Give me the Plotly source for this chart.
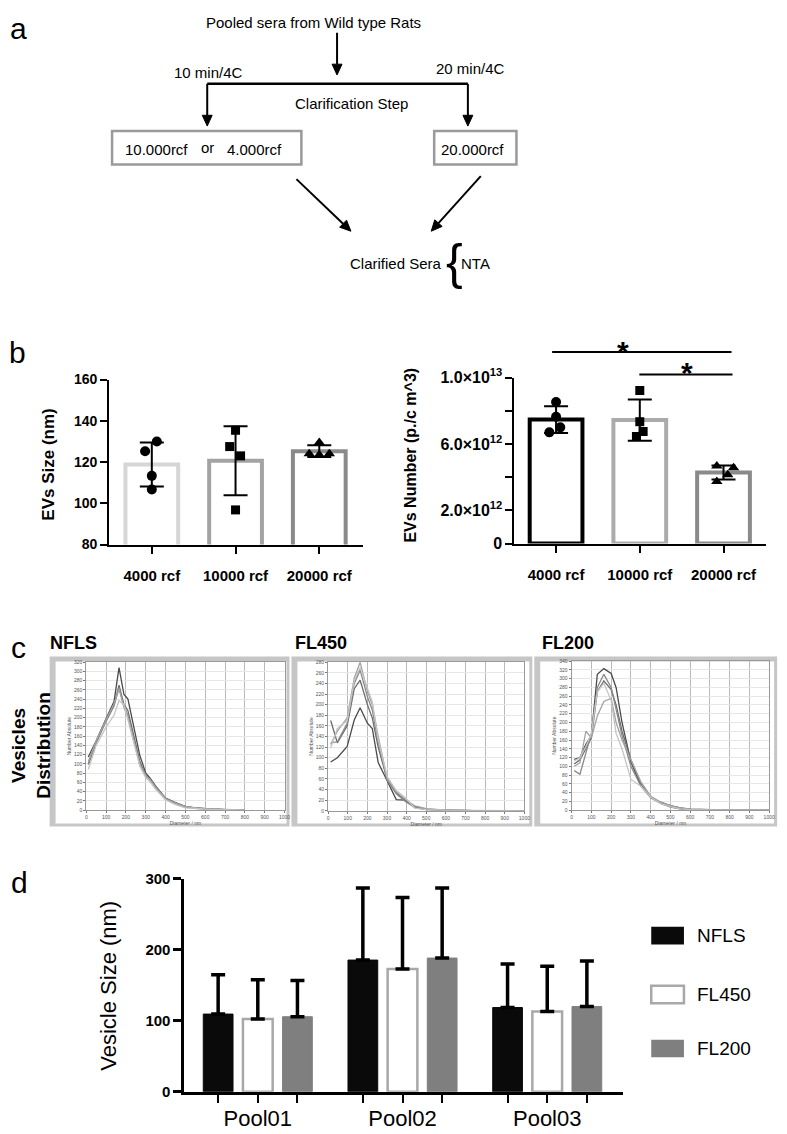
import plotly.graph_objects as go
import numpy as np

W, H = 787, 1134
# the page body adds an 8px margin around the figure; positions below are window pixels
OX, OY = 8, 8
def fx(p): return (p - OX) / W
def fy(p): return 1 - (p - OY) / H

FONT = "Liberation Sans, Arial, sans-serif"

# ---------------- data ----------------
# panel b
b_cats = ["4000 rcf", "10000 rcf", "20000 rcf"]
evsize_4000 = [130.0, 125.2, 113.3, 106.7]
evsize_10000 = [135.4, 127.5, 123.0, 96.8]
evsize_20000 = [129.5, 124.0, 123.5, 124.0]
evnum_4000 = [8.53e12, 7.64e12, 7.00e12, 6.70e12]
evnum_10000 = [9.22e12, 7.34e12, 6.75e12, 6.45e12]
evnum_20000 = [4.67e12, 4.57e12, 4.14e12, 3.74e12]
size_ticks = [80, 100, 120, 140, 160]
num_ticks = [0, 2e12, 6e12, 1e13]
num_ticktext = ["0", "2.0×10<sup>12</sup>", "6.0×10<sup>12</sup>", "1.0×10<sup>13</sup>"]
num_minor_ticks = [4e12, 8e12]

# panel c (NTA size distributions, diameter nm / number absolute)
nfls_diam = [10, 50, 100, 140, 165, 190, 210, 240, 270, 300, 320, 350, 400, 450, 500, 550, 600, 700, 800]
nfls_runs = [
    [115, 150, 198, 235, 308, 250, 240, 175, 118, 80, 70, 52, 26, 16, 8, 5, 3, 1, 0],
    [100, 148, 195, 228, 270, 228, 215, 160, 105, 75, 68, 50, 24, 15, 7, 5, 3, 1, 0],
    [98, 145, 192, 225, 265, 225, 205, 155, 100, 73, 66, 48, 23, 14, 7, 4, 2, 1, 0],
    [105, 150, 196, 230, 262, 222, 200, 150, 98, 75, 67, 49, 25, 15, 8, 4, 3, 1, 0],
    [88, 140, 180, 205, 237, 228, 195, 145, 95, 70, 62, 45, 22, 12, 5, 4, 2, 1, 0],
]
fl450_diam = [13, 47, 97, 133, 163, 200, 225, 255, 300, 347, 392, 442, 500, 600, 800, 1000]
fl450_runs = [
    [92, 100, 121, 171, 194, 165, 155, 91, 57, 21, 20, 7, 2, 1, 0, 0],
    [170, 128, 160, 230, 246, 200, 175, 120, 60, 35, 20, 8, 3, 1, 0, 0],
    [128, 130, 165, 240, 265, 215, 190, 130, 58, 32, 18, 6, 2, 1, 0, 0],
    [125, 150, 175, 250, 280, 225, 200, 140, 62, 36, 22, 9, 4, 1, 0, 0],
    [118, 155, 170, 245, 270, 230, 205, 135, 65, 38, 25, 5, 2, 1, 0, 0],
]
fl200_diam = [13, 42, 72, 100, 130, 163, 200, 225, 255, 300, 350, 400, 450, 500, 550, 600, 700, 800, 1000]
fl200_runs = [
    [116, 120, 150, 170, 310, 323, 312, 280, 200, 110, 55, 30, 18, 10, 5, 2, 1, 0, 0],
    [105, 115, 140, 165, 270, 295, 275, 240, 180, 115, 60, 30, 17, 8, 3, 1, 1, 0, 0],
    [90, 82, 130, 175, 280, 310, 280, 230, 170, 100, 55, 28, 15, 7, 3, 1, 0, 0, 0],
    [100, 108, 180, 165, 215, 248, 255, 200, 160, 115, 65, 32, 18, 10, 5, 2, 1, 0, 0],
    [112, 120, 145, 175, 270, 290, 250, 175, 140, 70, 55, 30, 15, 8, 3, 1, 0, 0, 0],
]
nta_titles = ["NFLS", "FL450", "FL200"]
nta_ymax = [320, 280, 340]

# panel d
pools = ["Pool01", "Pool02", "Pool03"]
d_series = ["NFLS", "FL450", "FL200"]
nfls_mean = [109.3, 185.3, 118.5]
nfls_err = [55.3, 101.5, 61.3]
fl450_mean = [102.4, 172.9, 113.0]
fl450_err = [55.3, 100.5, 63.6]
fl200_mean = [105.6, 188.1, 119.9]
fl200_err = [51.1, 98.7, 64.1]

# ---------------- styles ----------------
JIT_SIZE = [[0.06, -0.08, 0.0, 0.0], [0.0, -0.07, 0.06, 0.0], [0.0, -0.12, 0.0, 0.12]]
JIT_NUM = [[0.0, 0.0, 0.05, -0.08], [0.0, 0.0, 0.04, -0.04], [-0.08, 0.12, 0.05, -0.08]]
SYMBOLS = ["circle", "square", "triangle-up"]
SYM_SIZE = [10, 9, 10]
B_LEFT_COLORS = ["#d6d6d6", "#a3a3a3", "#8a8a8a"]
B_RIGHT_COLORS = ["#000000", "#ababab", "#8a8a8a"]
RUN_COLORS = ["#4a4a4a", "#6c6c6c", "#888888", "#a2a2a2", "#c4c4c4"]
D_STYLE = {
    "NFLS": dict(fill="#0a0a0a", line="#0a0a0a", lw=1),
    "FL450": dict(fill="#ffffff", line="#a8a8a8", lw=2.5),
    "FL200": dict(fill="#7f7f7f", line="#7f7f7f", lw=1),
}

fig = go.Figure()

# ---------------- panel b ----------------
xb = list(range(len(b_cats)))
size_groups = [evsize_4000, evsize_10000, evsize_20000]
num_groups = [evnum_4000, evnum_10000, evnum_20000]
size_mean = [float(np.mean(g)) for g in size_groups]
size_sd = [float(np.std(g, ddof=1)) for g in size_groups]
num_mean = [float(np.mean(g)) for g in num_groups]
num_sd = [float(np.std(g, ddof=1)) for g in num_groups]

fig.add_trace(go.Bar(x=xb, y=size_mean, width=0.63,
                     marker=dict(color="white", line=dict(color=B_LEFT_COLORS, width=4)),
                     error_y=dict(type="data", array=size_sd, color="black", thickness=2, width=12),
                     xaxis="x", yaxis="y", showlegend=False, hoverinfo="skip"))
for i, g in enumerate(size_groups):
    fig.add_trace(go.Scatter(x=[i + j for j in JIT_SIZE[i]], y=g, mode="markers",
                             marker=dict(symbol=SYMBOLS[i], size=SYM_SIZE[i], color="black"),
                             xaxis="x", yaxis="y", showlegend=False, cliponaxis=False))

fig.add_trace(go.Bar(x=xb, y=num_mean, width=0.63,
                     marker=dict(color="white", line=dict(color=B_RIGHT_COLORS, width=4)),
                     error_y=dict(type="data", array=num_sd, color="black", thickness=2, width=12),
                     xaxis="x2", yaxis="y2", showlegend=False, hoverinfo="skip"))
for i, g in enumerate(num_groups):
    fig.add_trace(go.Scatter(x=[i + j for j in JIT_NUM[i]], y=g, mode="markers",
                             marker=dict(symbol=SYMBOLS[i], size=SYM_SIZE[i], color="black"),
                             xaxis="x2", yaxis="y2", showlegend=False, cliponaxis=False))

# ---------------- panel c ----------------
nta = [(nfls_diam, nfls_runs), (fl450_diam, fl450_runs), (fl200_diam, fl200_runs)]
for k, (dx, runs) in enumerate(nta):
    for r, run in enumerate(runs):
        fig.add_trace(go.Scatter(x=dx, y=run, mode="lines",
                                 line=dict(color=RUN_COLORS[r], width=1.3),
                                 xaxis=f"x{k+3}", yaxis=f"y{k+3}", showlegend=False))

# ---------------- panel d ----------------
d_data = {"NFLS": (nfls_mean, nfls_err), "FL450": (fl450_mean, fl450_err), "FL200": (fl200_mean, fl200_err)}
xd = list(range(len(pools)))
for s in d_series:
    m, e = d_data[s]
    st = D_STYLE[s]
    fig.add_trace(go.Bar(x=xd, y=m, name=s,
                         marker=dict(color=st["fill"], line=dict(color=st["line"], width=st["lw"])),
                         error_y=dict(type="data", symmetric=False, array=e, arrayminus=[0] * len(e),
                                      color="black", thickness=3.5, width=7),
                         xaxis="x6", yaxis="y6", showlegend=False))

# ---------------- layout ----------------
axis_common = dict(showline=True, linecolor="black", ticks="outside", tickcolor="black",
                   zeroline=False, showgrid=False)
layout = dict(
    width=W, height=H, margin=dict(l=0, r=0, t=0, b=0),
    paper_bgcolor="white", plot_bgcolor="rgba(0,0,0,0)",
    font=dict(family=FONT, color="black"),
    showlegend=False, barmode="group", bargap=0.178, bargroupgap=0.25,
)
# b left
layout["xaxis"] = dict(axis_common, domain=[fx(109), fx(365)], anchor="y", range=[-0.51, 2.52],
                       tickvals=xb, ticktext=b_cats, ticklen=7, tickwidth=2, linewidth=2,
                       tickfont=dict(size=15, weight="bold"), ticklabelstandoff=9)
layout["yaxis"] = dict(axis_common, domain=[fy(543), fy(375)], anchor="x", range=[80, 160],
                       tickvals=size_ticks, ticklen=7, tickwidth=2, linewidth=2,
                       tickfont=dict(size=14, weight="bold"))
# b right
layout["xaxis2"] = dict(axis_common, domain=[fx(518), fx(772)], anchor="y2", range=[-0.497, 2.51],
                        tickvals=xb, ticktext=b_cats, ticklen=7, tickwidth=2, linewidth=2,
                        tickfont=dict(size=15, weight="bold"), ticklabelstandoff=9)
layout["yaxis2"] = dict(axis_common, domain=[fy(542), fy(373)], anchor="x2", range=[0, 1e13],
                        tickvals=num_ticks, ticktext=num_ticktext, ticklen=7, tickwidth=2, linewidth=2,
                        tickfont=dict(size=16, weight="bold"),
                        minor=dict(tickvals=num_minor_ticks, ticks="outside", ticklen=7, tickwidth=2,
                                   tickcolor="black"))
# c
nta_plot_px = [(86, 286, 813.3, 662.7), (330, 528, 814, 662.7), (575.7, 775, 813.3, 661.7)]
for k, (x0, x1, yb, yt) in enumerate(nta_plot_px):
    n = k + 3
    layout[f"xaxis{n}"] = dict(domain=[fx(x0), fx(x1)], anchor=f"y{n}", range=[0, 1000],
                               tickvals=list(range(0, 1001, 100)), showgrid=True, gridcolor="#b9b9b9",
                               gridwidth=1.2, ticks="outside", ticklen=2, tickcolor="#777",
                               tickfont=dict(size=5, color="#555"), showline=True, linecolor="#999",
                               linewidth=1, mirror=True, zeroline=False,
                               title=dict(text="Diameter / nm", font=dict(size=5, color="#555"), standoff=2))
    layout[f"yaxis{n}"] = dict(domain=[fy(yb), fy(yt)], anchor=f"x{n}", range=[0, nta_ymax[k]],
                               dtick=20, showgrid=True, gridcolor="#e6e6e6", gridwidth=1,
                               ticks="outside", ticklen=2, tickcolor="#777",
                               tickfont=dict(size=5, color="#555"), showline=True, linecolor="#999",
                               linewidth=1, mirror=True, zeroline=False,
                               title=dict(text="Number Absolute", font=dict(size=5, color="#555"), standoff=2))
# d
slot = (1 - 0.178) / 3
layout["xaxis6"] = dict(axis_common, domain=[fx(185), fx(628)], anchor="y6", range=[-0.507, 2.527],
                        tickvals=xd, ticktext=pools, ticklen=8, tickwidth=2, linewidth=3,
                        tickfont=dict(size=22), ticklabelstandoff=-3,
                        minor=dict(tickvals=[i + o for i in xd for o in (-slot, slot)],
                                   ticks="outside", ticklen=8, tickwidth=2, tickcolor="black"))
layout["yaxis6"] = dict(axis_common, domain=[fy(1100), fy(883)], anchor="x6", range=[0, 300],
                        tickvals=[0, 100, 200, 300], ticklen=8, tickwidth=2.5, linewidth=3,
                        tickfont=dict(size=15, weight="bold"))
fig.update_layout(**layout)

# ---------------- shapes / annotations ----------------
shapes = []
def pline(x0, y0, x1, y1, color="black", width=2):
    shapes.append(dict(type="line", xref="paper", yref="paper", x0=fx(x0), y0=fy(y0), x1=fx(x1), y1=fy(y1),
                       line=dict(color=color, width=width)))
def prect(x0, y0, x1, y1, fill=None, color=None, width=0, layer="above"):
    shapes.append(dict(type="rect", xref="paper", yref="paper", x0=fx(x0), y0=fy(y0), x1=fx(x1), y1=fy(y1),
                       fillcolor=fill or "rgba(0,0,0,0)", line=dict(color=color or "rgba(0,0,0,0)", width=width),
                       layer=layer))
def text(x, y, s, size=15, bold=False, angle=0, xanchor="center", color="black", family=FONT):
    fig.add_annotation(x=fx(x), y=fy(y), xref="paper", yref="paper", text=s, showarrow=False,
                       textangle=angle, xanchor=xanchor, yanchor="middle",
                       font=dict(size=size, color=color, family=family, weight="bold" if bold else "normal"))
def arrow(x0, y0, x1, y1, head=11, half=5):
    d = np.hypot(x1 - x0, y1 - y0)
    ux, uy = (x1 - x0) / d, (y1 - y0) / d
    bx, by = x1 - head * ux, y1 - head * uy
    nx, ny = -uy, ux
    pline(x0, y0, bx, by, width=2)
    pts = [(x1, y1), (bx + half * nx, by + half * ny), (bx - half * nx, by - half * ny)]
    path = "M " + " L ".join(f"{fx(px):.5f},{fy(py):.5f}" for px, py in pts) + " Z"
    shapes.append(dict(type="path", xref="paper", yref="paper", path=path,
                       fillcolor="black", line=dict(color="black", width=1)))

# panel a (flow diagram)
text(18, 18, "a", size=30)
text(315, 12, "Pooled sera from Wild type Rats", size=15)
arrow(339, 22, 339, 65)
text(209, 62, "10 min/4C", size=15)
text(474, 58, "20 min/4C", size=15)
pline(208, 74, 471, 74, width=2.5)
arrow(208, 74, 208, 117)
arrow(471, 74, 471, 117)
text(354, 94, "Clarification Step", size=15)
prect(112, 122, 303, 156, color="#9a9a9a", width=2.5)
prect(437, 122, 520, 156, color="#9a9a9a", width=2.5)
text(157, 141, "10.000rcf", size=15)
text(208, 139, "or", size=15)
text(256, 141, "4.000rcf", size=15)
text(476, 141, "20.000rcf", size=15)
arrow(298, 171, 353, 224)
arrow(484, 168, 434, 224)
text(398, 257, "Clarified Sera", size=15)
text(458, 255, "{", size=50)
text(479, 257, "NTA", size=15)

# panel b
text(17, 347, "b", size=30)
text(48, 462, "EVs Size (nm)", size=17, bold=True, angle=-90)
text(413, 452, "EVs Number (p./c m^3)", size=16, bold=True, angle=-90)
pline(556, 347, 737, 347, width=2)
pline(644, 370, 738, 370, width=2)
text(628, 346, "*", size=30, bold=True)
text(692, 368, "*", size=30, bold=True)

# panel c
text(18, 648, "c", size=30)
text(30, 747, "Vesicles<br>Distribution", size=19, bold=True, angle=-90)
for k, (x0, x1, yb, yt) in enumerate(nta_plot_px):
    fx0 = [49, 293, 538][k]
    fx1 = [291, 536, 783][k]
    prect(fx0, 657, fx1, 830, fill="#c6c6c6", layer="below")
    prect(fx0 + 6, 662, fx1 - 3, 827, fill="#ffffff", layer="below")
    text([73, 323, 572][k], 643, nta_titles[k], size=18, bold=True)

# panel d
text(19, 887, "d", size=30)
text(109, 992, "Vesicle Size (nm)", size=22, angle=-90)
leg_y = [941, 1001, 1056]
for s, y in zip(d_series, leg_y):
    st = D_STYLE[s]
    prect(656, y - 9, 689, y + 9, fill=st["fill"], color=st["line"], width=st["lw"] if s == "FL450" else 0)
    text(700, y, s, size=19, xanchor="left")

fig.update_layout(shapes=shapes)
fig.write_html("out.html")
